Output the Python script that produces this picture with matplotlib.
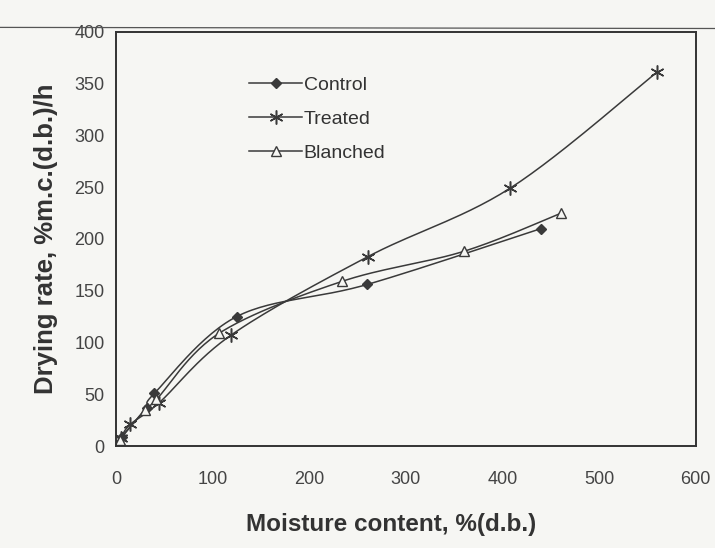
import numpy as np
import matplotlib
matplotlib.use('Agg')
import matplotlib.pyplot as plt
from matplotlib.lines import Line2D

plt.rcParams['font.family'] = ['Liberation Sans', 'DejaVu Sans']

# drying rate vs moisture content, three pretreatments
control_x = [0, 6, 32, 40, 125, 260, 440]
control_y = [0, 9, 37, 51, 125, 156, 210]
treated_x = [0, 5, 15, 45, 119, 261, 408, 560]
treated_y = [0, 8, 21, 42, 107, 183, 249, 361]
blanched_x = [0, 4, 30, 42, 107, 234, 360, 461]
blanched_y = [0, 6, 35, 45, 109, 159, 188, 225]

x_ticks = [0, 100, 200, 300, 400, 500, 600]
y_ticks = [0, 50, 100, 150, 200, 250, 300, 350, 400]


def smooth(xs, ys, n=30):
    # Catmull-Rom curve through the points, like a smoothed scatter line
    p = np.column_stack([xs, ys]).astype(float)
    p = np.vstack([p[0], p, p[-1]])
    out = []
    t = np.linspace(0, 1, n)[:, None]
    for i in range(1, len(p) - 2):
        p0, p1, p2, p3 = p[i - 1], p[i], p[i + 1], p[i + 2]
        seg = 0.5 * ((2 * p1) + (-p0 + p2) * t
                     + (2 * p0 - 5 * p1 + 4 * p2 - p3) * t ** 2
                     + (-p0 + 3 * p1 - 3 * p2 + p3) * t ** 3)
        out.append(seg)
    out = np.vstack(out)
    return out[:, 0], out[:, 1]


paper = '#f6f6f3'
ink = '#3a3a3a'

fig = plt.figure(figsize=(7.15, 5.48), dpi=100, facecolor=paper)
ax = fig.add_axes([0.162, 0.186, 0.811, 0.756])
ax.set_facecolor(paper)

series = [
    (control_x, control_y, 'Control', dict(marker='D', ms=5, mfc=ink, mec=ink)),
    (treated_x, treated_y, 'Treated', dict(marker=(6, 2, 0), ms=10, mfc='none', mec=ink, mew=1.1)),
    (blanched_x, blanched_y, 'Blanched', dict(marker='^', ms=7.5, mfc=paper, mec=ink, mew=1.0)),
]

handles = []
for xs, ys, name, mk in series:
    sx, sy = smooth(xs, ys)
    ax.plot(sx, sy, color=ink, lw=1.1)
    ax.plot(xs[1:], ys[1:], ls='none', **mk)
    handles.append(Line2D([], [], color=ink, lw=1.1, label=name, **mk))

ax.set_xlim(0, 600)
ax.set_ylim(0, 400)
ax.set_xticks(x_ticks)
ax.set_yticks(y_ticks)
ax.tick_params(length=0, labelsize=13, labelcolor='#444444')
ax.tick_params(axis='x', pad=18)
ax.tick_params(axis='y', pad=8)

for s in ax.spines.values():
    s.set_color('#333333')
    s.set_linewidth(1.4)

ax.set_xlabel('Moisture content, %(d.b.)', fontsize=17.5, fontweight='bold',
              color='#333333', labelpad=18)
ax.xaxis.label.set_x(0.475)
ax.set_ylabel('Drying rate, %m.c.(d.b.)/h', fontsize=18.5, fontweight='bold',
              color='#333333', labelpad=12)

leg = ax.legend(handles=handles, loc='upper left', bbox_to_anchor=(0.2, 0.935),
                frameon=False, fontsize=14, handlelength=2.7, handletextpad=0.1,
                labelspacing=0.85, labelcolor='#333333')

# ruled line across the top of the page
fig.add_artist(Line2D([0, 1], [0.95, 0.948], color='#555555', lw=0.9,
                      transform=fig.transFigure))

fig.savefig('out.png', dpi=100, facecolor=paper)
